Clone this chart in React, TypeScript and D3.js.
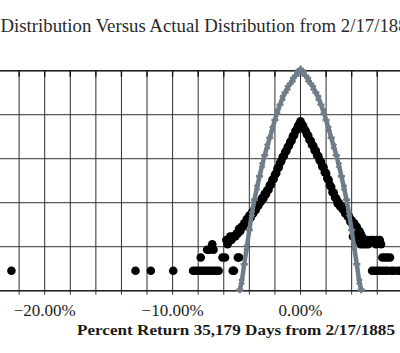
import React from 'react';
import * as d3 from 'd3';

const W = 400;
const H = 353;
const TOTAL_DAYS = 35179;

const titleText = 'Distribution Versus Actual Distribution from 2/17/1885';
const xAxisTitle = 'Percent Return 35,179 Days from 2/17/1885';
const xTickValues = [-20, -10, 0];
const xGridValues = [-24, -22, -20, -18, -16, -14, -12, -10, -8, -6, -4, -2, 0, 2, 4, 6, 8];
const yGridValues = [1e-5, 1e-4, 1e-3, 1e-2, 1e-1, 1];

// Actual distribution: days per 0.1% bin, core bins from -5.8% to +5.0%
const coreStart = -5.8;
const coreDays = [
  5, 4, 5, 6, 5, 6, 6, 6, 7, 7,
  9, 8, 10, 10, 12, 12, 15, 14, 18, 16,
  21, 20, 25, 24, 31, 30, 37, 37, 45, 44,
  56, 55, 67, 69, 88, 91, 116, 122, 152, 165,
  210, 225, 285, 310, 385, 405, 500, 530, 650, 690,
  850, 900, 1130, 1200, 1500, 1600, 1950, 2150, 2500, 2150,
  1980, 1650, 1520, 1250, 1180, 950, 900, 720, 690, 550,
  530, 420, 400, 320, 300, 235, 225, 172, 165, 125,
  116, 87, 80, 61, 59, 46, 44, 34, 35, 29,
  29, 25, 24, 20, 21, 17, 17, 13, 14, 11,
  12, 10, 10, 8, 8, 7, 6, 5, 5,
];

// Actual distribution: scattered tail observations
const tailReturns = [
  -22.6, -12.9, -11.7, -9.95, -8.4, -8.2, -8.0, -7.8, -7.6, -7.4, -7.2, -7.0, -6.8, -6.6, -6.4,
  -5.3, -5.2, -7.8, -6.1, -5.9, -4.9, -4.8, -7.3, -7.1, -6.9, -6.8,
  4.1, 4.3, 4.5, 4.7, 4.9, 5.1, 5.2, 5.3, 5.5, 5.7, 5.9, 6.0, 6.2, 6.3,
  6.4, 6.6, 6.8, 7.0,
  5.6, 5.8, 6.0, 6.2, 6.4, 6.6, 6.8, 7.1, 7.3, 7.6, 7.8,
];
const tailDays = [
  1, 1, 1, 1, 1, 1, 1, 1, 1, 1, 1, 1, 1, 1, 1,
  1, 1, 2, 2, 2, 2, 2, 3, 3, 4, 3,
  6, 5, 5, 4, 4, 4, 5, 4, 5, 5, 4, 5, 5, 4,
  2, 2, 2, 2,
  1, 1, 1, 1, 1, 1, 1, 1, 1, 1, 1,
];

// Normal distribution (share of days)
const normalReturns = [
  -4.75, -4.6, -4.4, -4.2, -4.0, -3.8, -3.6, -3.4, -3.2, -3.0, -2.8, -2.6, -2.4, -2.2, -2.0, -1.8, -1.6, -1.4, -1.2, -1.0, -0.8, -0.6, -0.4, -0.2,
  0,
  0.2, 0.4, 0.6, 0.8, 1.0, 1.2, 1.4, 1.6, 1.8, 2.0, 2.2, 2.4, 2.6, 2.8, 3.0, 3.2, 3.4, 3.6, 3.8, 4.0, 4.2, 4.4, 4.6, 4.75,
];
const normalFreq = [
  0.0000105, 0.000016, 0.00004, 0.000097, 0.00024, 0.00056, 0.00117, 0.0022, 0.004, 0.0071, 0.012, 0.019, 0.03, 0.048, 0.076, 0.117, 0.17, 0.24, 0.32, 0.41, 0.51, 0.63, 0.77, 0.93,
  1.09,
  0.93, 0.77, 0.63, 0.51, 0.41, 0.32, 0.24, 0.17, 0.117, 0.076, 0.048, 0.03, 0.019, 0.012, 0.0071, 0.004, 0.0022, 0.00117, 0.00056, 0.00024, 0.000097, 0.00004, 0.000016, 0.0000105,
];

export default function App() {
  const x = d3.scaleLinear().domain([-24, 8]).range([-6.46, 402.82]);
  const y = d3.scaleLog().domain([1e-5, 1]).range([290.7, 70.7]);
  const top = y(1);
  const bottom = y(1e-5);
  const fmt = d3.format('.2%');

  const actual = [
    ...coreDays.map((d, i) => ({ r: +(coreStart + i * 0.1).toFixed(1), v: d / TOTAL_DAYS })),
    ...tailReturns.map((r, i) => ({ r, v: tailDays[i] / TOTAL_DAYS })),
  ];
  const normal = normalReturns.map((r, i) => ({ r, v: normalFreq[i] }));

  const dot = d3.symbol().type(d3.symbolCircle).size(58)();
  const cross = d3.symbol().type(d3.symbolCross).size(28)();
  const normalLine = d3
    .line<{ r: number; v: number }>()
    .x((d) => x(d.r))
    .y((d) => y(d.v))
    .curve(d3.curveMonotoneX)(normal);

  return (
    <svg
      width={W}
      height={H}
      viewBox={`0 0 ${W} ${H}`}
      style={{ position: 'absolute', left: 0, top: 0, background: '#fff' }}
    >
      <text x={0.5} y={32.3} fontFamily="'Liberation Serif', serif" fontSize={18.8} fill="#2a2a2a">
        {titleText}
      </text>

      {/* horizontal grid */}
      {yGridValues.map((v) => (
        <line key={'h' + v} x1={0} x2={W} y1={y(v)} y2={y(v)} stroke="#5a5a5a" strokeWidth={1.2} />
      ))}
      {/* vertical grid */}
      {xGridValues.map((v) => (
        <line key={'v' + v} x1={x(v)} x2={x(v)} y1={top} y2={bottom} stroke="#2e2e2e" strokeWidth={1} />
      ))}
      {/* top ticks */}
      {xGridValues.map((v) => (
        <line key={'t' + v} x1={x(v)} x2={x(v)} y1={top} y2={top + 6} stroke="#111" strokeWidth={1.4} />
      ))}
      {/* bottom ticks */}
      {xGridValues.map((v) => (
        <line key={'b' + v} x1={x(v)} x2={x(v)} y1={bottom} y2={bottom + 4} stroke="#333" strokeWidth={1} />
      ))}
      <line x1={0} x2={W} y1={top} y2={top} stroke="#222" strokeWidth={1.6} />
      <line x1={0} x2={W} y1={bottom} y2={bottom} stroke="#222" strokeWidth={1.5} />

      {/* actual distribution */}
      <g fill="#000">
        {actual.map((d, i) => (
          <path key={'a' + i} d={dot} transform={`translate(${x(d.r)},${y(d.v)})`} />
        ))}
      </g>

      {/* normal distribution */}
      <path d={normalLine || ''} fill="none" stroke="#6f7c8a" strokeWidth={4.5} />
      <g fill="#6f7c8a">
        {normal.map((d, i) => (
          <path key={'n' + i} d={cross} transform={`translate(${x(d.r)},${y(d.v)}) rotate(${i % 2 ? 45 : 0})`} />
        ))}
      </g>

      {/* x tick labels */}
      {xTickValues.map((v) => (
        <text
          key={'l' + v}
          x={x(v)}
          y={315.5}
          textAnchor="middle"
          fontFamily="'Liberation Serif', serif"
          fontSize={17}
          fill="#222"
        >
          {fmt(v / 100)}
        </text>
      ))}
      <text
        x={236}
        y={334.5}
        textAnchor="middle"
        fontFamily="'Liberation Serif', serif"
        fontWeight="bold"
        fontSize={15}
        textLength={318}
        lengthAdjust="spacingAndGlyphs"
        fill="#1a1a1a"
      >
        {xAxisTitle}
      </text>
    </svg>
  );
}
